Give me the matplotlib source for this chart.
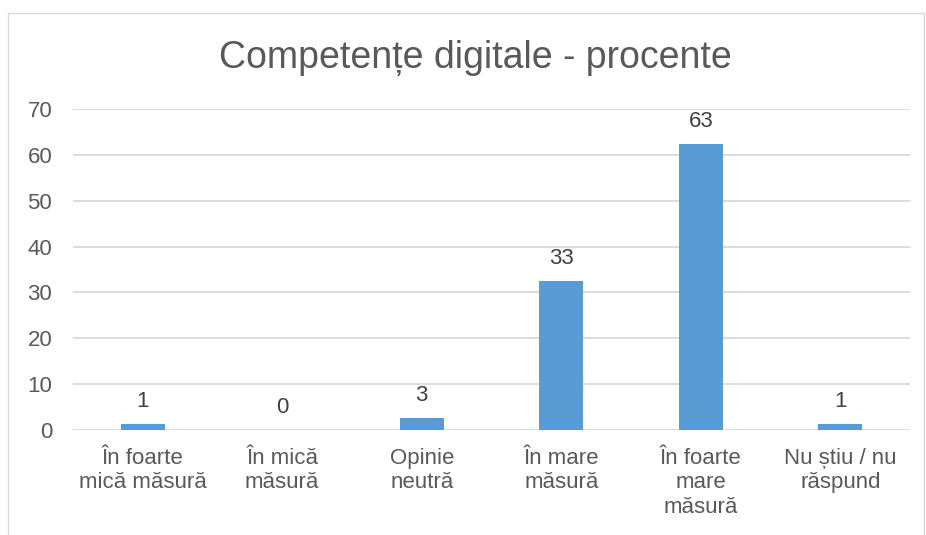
import matplotlib.pyplot as plt
from matplotlib.patches import Rectangle

plt.rcParams['font.family'] = ['Liberation Sans', 'DejaVu Sans']

categories = ['În foarte\nmică măsură', 'În mică\nmăsură', 'Opinie\nneutră',
              'În mare\nmăsură', 'În foarte\nmare\nmăsură', 'Nu știu / nu\nrăspund']
values = [1.25, 0, 2.5, 32.5, 62.5, 1.25]
value_labels = ['1', '0', '3', '33', '63', '1']
yticks = [0, 10, 20, 30, 40, 50, 60, 70]

text_color = '#595959'
bar_color = '#5B9BD5'
grid_color = '#D9D9D9'

W, H = 926, 535
fig = plt.figure(figsize=(W / 100, H / 100), dpi=100)

# chart frame (Excel style)
fig.patches.append(Rectangle((8 / W, -0.1), (924 - 8) / W, 1.1 - 13 / H,
                             transform=fig.transFigure, fill=False,
                             edgecolor=grid_color, linewidth=1))

ax = fig.add_axes([73 / W, 1 - 429.5 / H, (910 - 73) / W, (429.5 - 109.3) / H])
x = list(range(len(categories)))
ax.bar(x, values, width=0.315, color=bar_color, zorder=3)

for xi, v, lab in zip(x, values, value_labels):
    ax.annotate(lab, (xi, v), xytext=(0, 12), textcoords='offset points',
                ha='center', va='baseline', fontsize=16, color='#404040')

ax.set_xlim(-0.5, len(categories) - 0.5)
ax.set_ylim(0, 70)
ax.set_yticks(yticks)
ax.set_xticks(x)
ax.set_xticklabels(categories, fontsize=16, color=text_color, linespacing=1.22)
ax.tick_params(axis='y', length=0, pad=15, labelsize=16, labelcolor=text_color)
ax.tick_params(axis='x', length=0, pad=13)
ax.grid(axis='y', color=grid_color, linewidth=1.3, zorder=0)
for s in ax.spines.values():
    s.set_visible(False)

fig.text(475 / W, 1 - 68 / H, 'Competențe digitale - procente', ha='center',
         va='baseline', fontsize=27, color=text_color)

fig.savefig('out.png', dpi=100)
